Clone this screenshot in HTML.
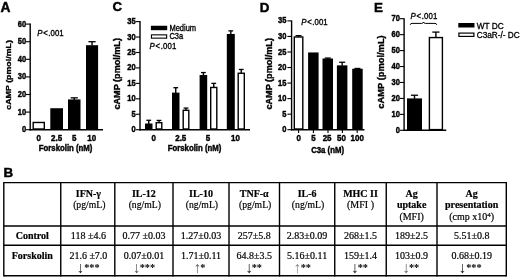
<!DOCTYPE html>
<html><head><meta charset="utf-8"><title>Figure</title>
<style>
html,body{margin:0;padding:0;background:#fff;}
svg{display:block;font-family:"Liberation Sans",sans-serif;filter:blur(0.35px);}
</style></head>
<body>
<svg width="520" height="277" viewBox="0 0 520 277">
<rect width="520" height="277" fill="#fff"/>
<line x1="30.20" y1="23.60" x2="30.20" y2="130.40" stroke="#000" stroke-width="1.4"/>
<line x1="29.50" y1="129.70" x2="103.00" y2="129.70" stroke="#000" stroke-width="1.4"/>
<line x1="26.00" y1="129.70" x2="30.20" y2="129.70" stroke="#000" stroke-width="1.1"/>
<text transform="translate(26.20,132.25) scale(0.97,1.13)" text-anchor="end" font-size="7.8" font-weight="bold" stroke="#000" stroke-width="0.38" >0</text>
<line x1="26.00" y1="112.10" x2="30.20" y2="112.10" stroke="#000" stroke-width="1.1"/>
<text transform="translate(26.20,114.65) scale(0.97,1.13)" text-anchor="end" font-size="7.8" font-weight="bold" stroke="#000" stroke-width="0.38" >10</text>
<line x1="26.00" y1="94.50" x2="30.20" y2="94.50" stroke="#000" stroke-width="1.1"/>
<text transform="translate(26.20,97.05) scale(0.97,1.13)" text-anchor="end" font-size="7.8" font-weight="bold" stroke="#000" stroke-width="0.38" >20</text>
<line x1="26.00" y1="76.90" x2="30.20" y2="76.90" stroke="#000" stroke-width="1.1"/>
<text transform="translate(26.20,79.45) scale(0.97,1.13)" text-anchor="end" font-size="7.8" font-weight="bold" stroke="#000" stroke-width="0.38" >30</text>
<line x1="26.00" y1="59.30" x2="30.20" y2="59.30" stroke="#000" stroke-width="1.1"/>
<text transform="translate(26.20,61.85) scale(0.97,1.13)" text-anchor="end" font-size="7.8" font-weight="bold" stroke="#000" stroke-width="0.38" >40</text>
<line x1="26.00" y1="41.70" x2="30.20" y2="41.70" stroke="#000" stroke-width="1.1"/>
<text transform="translate(26.20,44.25) scale(0.97,1.13)" text-anchor="end" font-size="7.8" font-weight="bold" stroke="#000" stroke-width="0.38" >50</text>
<line x1="26.00" y1="24.10" x2="30.20" y2="24.10" stroke="#000" stroke-width="1.1"/>
<text transform="translate(26.20,26.65) scale(0.97,1.13)" text-anchor="end" font-size="7.8" font-weight="bold" stroke="#000" stroke-width="0.38" >60</text>
<rect x="33.20" y="122.48" width="11.10" height="6.52" fill="#fff" stroke="#000" stroke-width="1.4"/>
<rect x="50.30" y="108.23" width="12.70" height="21.47" fill="#000"/>
<line x1="74.25" y1="97.84" x2="74.25" y2="99.93" stroke="#000" stroke-width="1.4"/>
<line x1="70.65" y1="97.84" x2="77.85" y2="97.84" stroke="#000" stroke-width="1.3"/>
<rect x="68.00" y="99.43" width="12.50" height="30.27" fill="#000"/>
<line x1="92.05" y1="41.70" x2="92.05" y2="45.72" stroke="#000" stroke-width="1.4"/>
<line x1="88.45" y1="41.70" x2="95.65" y2="41.70" stroke="#000" stroke-width="1.3"/>
<rect x="86.00" y="45.22" width="12.10" height="84.48" fill="#000"/>
<text transform="translate(38.75,141.00) scale(1.0,1.13)" text-anchor="middle" font-size="8.0" font-weight="bold" stroke="#000" stroke-width="0.38" >0</text>
<text transform="translate(56.60,141.00) scale(1.0,1.13)" text-anchor="middle" font-size="8.0" font-weight="bold" stroke="#000" stroke-width="0.38" >2.5</text>
<text transform="translate(74.25,141.00) scale(1.0,1.13)" text-anchor="middle" font-size="8.0" font-weight="bold" stroke="#000" stroke-width="0.38" >5</text>
<text transform="translate(91.75,141.00) scale(1.0,1.13)" text-anchor="middle" font-size="8.0" font-weight="bold" stroke="#000" stroke-width="0.38" >10</text>
<text transform="translate(65.60,150.60) scale(1.0,1.13)" text-anchor="middle" font-size="7.8" font-weight="bold" stroke="#000" stroke-width="0.38" >Forskolin (nM)</text>
<text transform="translate(11.00,74.90) rotate(-90) scale(1,0.9)" text-anchor="middle" font-size="8.85" font-weight="bold" stroke="#000" stroke-width="0.38">cAMP (pmol/mL)</text>
<line x1="140.00" y1="21.10" x2="140.00" y2="130.40" stroke="#000" stroke-width="1.4"/>
<line x1="139.30" y1="129.70" x2="250.00" y2="129.70" stroke="#000" stroke-width="1.4"/>
<line x1="135.80" y1="129.70" x2="140.00" y2="129.70" stroke="#000" stroke-width="1.1"/>
<text transform="translate(135.70,132.25) scale(0.97,1.13)" text-anchor="end" font-size="7.8" font-weight="bold" stroke="#000" stroke-width="0.38" >0</text>
<line x1="135.80" y1="114.26" x2="140.00" y2="114.26" stroke="#000" stroke-width="1.1"/>
<text transform="translate(135.70,116.81) scale(0.97,1.13)" text-anchor="end" font-size="7.8" font-weight="bold" stroke="#000" stroke-width="0.38" >5</text>
<line x1="135.80" y1="98.81" x2="140.00" y2="98.81" stroke="#000" stroke-width="1.1"/>
<text transform="translate(135.70,101.36) scale(0.97,1.13)" text-anchor="end" font-size="7.8" font-weight="bold" stroke="#000" stroke-width="0.38" >10</text>
<line x1="135.80" y1="83.37" x2="140.00" y2="83.37" stroke="#000" stroke-width="1.1"/>
<text transform="translate(135.70,85.92) scale(0.97,1.13)" text-anchor="end" font-size="7.8" font-weight="bold" stroke="#000" stroke-width="0.38" >15</text>
<line x1="135.80" y1="67.93" x2="140.00" y2="67.93" stroke="#000" stroke-width="1.1"/>
<text transform="translate(135.70,70.48) scale(0.97,1.13)" text-anchor="end" font-size="7.8" font-weight="bold" stroke="#000" stroke-width="0.38" >20</text>
<line x1="135.80" y1="52.49" x2="140.00" y2="52.49" stroke="#000" stroke-width="1.1"/>
<text transform="translate(135.70,55.04) scale(0.97,1.13)" text-anchor="end" font-size="7.8" font-weight="bold" stroke="#000" stroke-width="0.38" >25</text>
<line x1="135.80" y1="37.04" x2="140.00" y2="37.04" stroke="#000" stroke-width="1.1"/>
<text transform="translate(135.70,39.59) scale(0.97,1.13)" text-anchor="end" font-size="7.8" font-weight="bold" stroke="#000" stroke-width="0.38" >30</text>
<line x1="135.80" y1="21.60" x2="140.00" y2="21.60" stroke="#000" stroke-width="1.1"/>
<text transform="translate(135.70,24.15) scale(0.97,1.13)" text-anchor="end" font-size="7.8" font-weight="bold" stroke="#000" stroke-width="0.38" >35</text>
<line x1="148.75" y1="120.28" x2="148.75" y2="124.02" stroke="#000" stroke-width="1.4"/>
<line x1="146.35" y1="120.28" x2="151.15" y2="120.28" stroke="#000" stroke-width="1.3"/>
<rect x="145.00" y="123.52" width="7.50" height="6.18" fill="#000"/>
<line x1="159.00" y1="120.43" x2="159.00" y2="122.48" stroke="#000" stroke-width="1.4"/>
<line x1="156.60" y1="120.43" x2="161.40" y2="120.43" stroke="#000" stroke-width="1.3"/>
<rect x="156.20" y="122.68" width="5.60" height="6.32" fill="#fff" stroke="#000" stroke-width="1.4"/>
<line x1="175.75" y1="87.70" x2="175.75" y2="93.14" stroke="#000" stroke-width="1.4"/>
<line x1="173.35" y1="87.70" x2="178.15" y2="87.70" stroke="#000" stroke-width="1.3"/>
<rect x="172.00" y="92.64" width="7.50" height="37.06" fill="#000"/>
<line x1="186.00" y1="108.08" x2="186.00" y2="110.12" stroke="#000" stroke-width="1.4"/>
<line x1="183.60" y1="108.08" x2="188.40" y2="108.08" stroke="#000" stroke-width="1.3"/>
<rect x="183.20" y="110.32" width="5.60" height="18.68" fill="#fff" stroke="#000" stroke-width="1.4"/>
<line x1="203.40" y1="72.56" x2="203.40" y2="75.53" stroke="#000" stroke-width="1.4"/>
<line x1="201.00" y1="72.56" x2="205.80" y2="72.56" stroke="#000" stroke-width="1.3"/>
<rect x="199.60" y="75.03" width="7.60" height="54.67" fill="#000"/>
<line x1="213.75" y1="83.37" x2="213.75" y2="87.27" stroke="#000" stroke-width="1.4"/>
<line x1="211.35" y1="83.37" x2="216.15" y2="83.37" stroke="#000" stroke-width="1.3"/>
<rect x="210.70" y="87.47" width="6.10" height="41.53" fill="#fff" stroke="#000" stroke-width="1.4"/>
<line x1="230.80" y1="30.87" x2="230.80" y2="34.45" stroke="#000" stroke-width="1.4"/>
<line x1="228.40" y1="30.87" x2="233.20" y2="30.87" stroke="#000" stroke-width="1.3"/>
<rect x="226.80" y="33.95" width="8.00" height="95.75" fill="#000"/>
<line x1="241.25" y1="69.47" x2="241.25" y2="73.06" stroke="#000" stroke-width="1.4"/>
<line x1="238.85" y1="69.47" x2="243.65" y2="69.47" stroke="#000" stroke-width="1.3"/>
<rect x="238.20" y="73.26" width="6.10" height="55.74" fill="#fff" stroke="#000" stroke-width="1.4"/>
<text transform="translate(153.75,141.00) scale(1.0,1.13)" text-anchor="middle" font-size="8.0" font-weight="bold" stroke="#000" stroke-width="0.38" >0</text>
<text transform="translate(180.75,141.00) scale(1.0,1.13)" text-anchor="middle" font-size="8.0" font-weight="bold" stroke="#000" stroke-width="0.38" >2.5</text>
<text transform="translate(208.00,141.00) scale(1.0,1.13)" text-anchor="middle" font-size="8.0" font-weight="bold" stroke="#000" stroke-width="0.38" >5</text>
<text transform="translate(235.50,141.00) scale(1.0,1.13)" text-anchor="middle" font-size="8.0" font-weight="bold" stroke="#000" stroke-width="0.38" >10</text>
<text transform="translate(194.50,150.60) scale(1.0,1.13)" text-anchor="middle" font-size="7.8" font-weight="bold" stroke="#000" stroke-width="0.38" >Forskolin (nM)</text>
<text transform="translate(120.20,73.80) rotate(-90) scale(1,0.9)" text-anchor="middle" font-size="9.1" font-weight="bold" stroke="#000" stroke-width="0.38">cAMP (pmol/mL)</text>
<line x1="291.60" y1="20.40" x2="291.60" y2="130.40" stroke="#000" stroke-width="1.4"/>
<line x1="290.90" y1="129.70" x2="364.50" y2="129.70" stroke="#000" stroke-width="1.4"/>
<line x1="287.40" y1="129.70" x2="291.60" y2="129.70" stroke="#000" stroke-width="1.1"/>
<text transform="translate(286.40,132.25) scale(0.97,1.13)" text-anchor="end" font-size="7.8" font-weight="bold" stroke="#000" stroke-width="0.38" >0</text>
<line x1="287.40" y1="114.16" x2="291.60" y2="114.16" stroke="#000" stroke-width="1.1"/>
<text transform="translate(286.40,116.71) scale(0.97,1.13)" text-anchor="end" font-size="7.8" font-weight="bold" stroke="#000" stroke-width="0.38" >5</text>
<line x1="287.40" y1="98.61" x2="291.60" y2="98.61" stroke="#000" stroke-width="1.1"/>
<text transform="translate(286.40,101.16) scale(0.97,1.13)" text-anchor="end" font-size="7.8" font-weight="bold" stroke="#000" stroke-width="0.38" >10</text>
<line x1="287.40" y1="83.07" x2="291.60" y2="83.07" stroke="#000" stroke-width="1.1"/>
<text transform="translate(286.40,85.62) scale(0.97,1.13)" text-anchor="end" font-size="7.8" font-weight="bold" stroke="#000" stroke-width="0.38" >15</text>
<line x1="287.40" y1="67.53" x2="291.60" y2="67.53" stroke="#000" stroke-width="1.1"/>
<text transform="translate(286.40,70.08) scale(0.97,1.13)" text-anchor="end" font-size="7.8" font-weight="bold" stroke="#000" stroke-width="0.38" >20</text>
<line x1="287.40" y1="51.99" x2="291.60" y2="51.99" stroke="#000" stroke-width="1.1"/>
<text transform="translate(286.40,54.54) scale(0.97,1.13)" text-anchor="end" font-size="7.8" font-weight="bold" stroke="#000" stroke-width="0.38" >25</text>
<line x1="287.40" y1="36.44" x2="291.60" y2="36.44" stroke="#000" stroke-width="1.1"/>
<text transform="translate(286.40,38.99) scale(0.97,1.13)" text-anchor="end" font-size="7.8" font-weight="bold" stroke="#000" stroke-width="0.38" >30</text>
<line x1="287.40" y1="20.90" x2="291.60" y2="20.90" stroke="#000" stroke-width="1.1"/>
<text transform="translate(286.40,23.45) scale(0.97,1.13)" text-anchor="end" font-size="7.8" font-weight="bold" stroke="#000" stroke-width="0.38" >35</text>
<line x1="298.55" y1="35.67" x2="298.55" y2="36.79" stroke="#000" stroke-width="1.4"/>
<line x1="295.55" y1="35.67" x2="301.55" y2="35.67" stroke="#000" stroke-width="1.3"/>
<rect x="294.30" y="36.99" width="8.50" height="92.01" fill="#fff" stroke="#000" stroke-width="1.4"/>
<rect x="308.10" y="52.45" width="10.50" height="77.25" fill="#000"/>
<line x1="327.75" y1="58.05" x2="327.75" y2="59.01" stroke="#000" stroke-width="1.4"/>
<line x1="324.75" y1="58.05" x2="330.75" y2="58.05" stroke="#000" stroke-width="1.3"/>
<rect x="322.50" y="58.51" width="10.50" height="71.19" fill="#000"/>
<line x1="342.15" y1="62.24" x2="342.15" y2="65.85" stroke="#000" stroke-width="1.4"/>
<line x1="339.15" y1="62.24" x2="345.15" y2="62.24" stroke="#000" stroke-width="1.3"/>
<rect x="336.90" y="65.35" width="10.50" height="64.35" fill="#000"/>
<line x1="357.45" y1="68.46" x2="357.45" y2="69.27" stroke="#000" stroke-width="1.4"/>
<line x1="354.45" y1="68.46" x2="360.45" y2="68.46" stroke="#000" stroke-width="1.3"/>
<rect x="352.20" y="68.77" width="10.50" height="60.93" fill="#000"/>
<line x1="298.60" y1="129.70" x2="298.60" y2="133.00" stroke="#000" stroke-width="1.1"/>
<line x1="313.40" y1="129.70" x2="313.40" y2="133.00" stroke="#000" stroke-width="1.1"/>
<line x1="328.00" y1="129.70" x2="328.00" y2="133.00" stroke="#000" stroke-width="1.1"/>
<line x1="342.40" y1="129.70" x2="342.40" y2="133.00" stroke="#000" stroke-width="1.1"/>
<line x1="357.20" y1="129.70" x2="357.20" y2="133.00" stroke="#000" stroke-width="1.1"/>
<text transform="translate(298.80,140.90) scale(1.0,1.13)" text-anchor="middle" font-size="8.0" font-weight="bold" stroke="#000" stroke-width="0.38" >0</text>
<text transform="translate(313.40,140.90) scale(1.0,1.13)" text-anchor="middle" font-size="8.0" font-weight="bold" stroke="#000" stroke-width="0.38" >5</text>
<text transform="translate(327.10,140.90) scale(1.0,1.13)" text-anchor="middle" font-size="8.0" font-weight="bold" stroke="#000" stroke-width="0.38" >25</text>
<text transform="translate(341.50,140.90) scale(1.0,1.13)" text-anchor="middle" font-size="8.0" font-weight="bold" stroke="#000" stroke-width="0.38" >50</text>
<text transform="translate(357.20,140.90) scale(1.0,1.13)" text-anchor="middle" font-size="8.0" font-weight="bold" stroke="#000" stroke-width="0.38" >100</text>
<text transform="translate(327.60,152.80) scale(1.0,1.13)" text-anchor="middle" font-size="7.8" font-weight="bold" stroke="#000" stroke-width="0.38" >C3a (nM)</text>
<text transform="translate(271.60,73.80) rotate(-90) scale(1,0.9)" text-anchor="middle" font-size="9.1" font-weight="bold" stroke="#000" stroke-width="0.38">cAMP (pmol/mL)</text>
<line x1="404.10" y1="18.20" x2="404.10" y2="131.00" stroke="#000" stroke-width="1.4"/>
<line x1="403.40" y1="130.30" x2="446.25" y2="130.30" stroke="#000" stroke-width="1.4"/>
<line x1="399.90" y1="130.30" x2="404.10" y2="130.30" stroke="#000" stroke-width="1.1"/>
<text transform="translate(399.90,132.85) scale(0.97,1.13)" text-anchor="end" font-size="7.8" font-weight="bold" stroke="#000" stroke-width="0.38" >0</text>
<line x1="399.90" y1="114.36" x2="404.10" y2="114.36" stroke="#000" stroke-width="1.1"/>
<text transform="translate(399.90,116.91) scale(0.97,1.13)" text-anchor="end" font-size="7.8" font-weight="bold" stroke="#000" stroke-width="0.38" >10</text>
<line x1="399.90" y1="98.41" x2="404.10" y2="98.41" stroke="#000" stroke-width="1.1"/>
<text transform="translate(399.90,100.96) scale(0.97,1.13)" text-anchor="end" font-size="7.8" font-weight="bold" stroke="#000" stroke-width="0.38" >20</text>
<line x1="399.90" y1="82.47" x2="404.10" y2="82.47" stroke="#000" stroke-width="1.1"/>
<text transform="translate(399.90,85.02) scale(0.97,1.13)" text-anchor="end" font-size="7.8" font-weight="bold" stroke="#000" stroke-width="0.38" >30</text>
<line x1="399.90" y1="66.53" x2="404.10" y2="66.53" stroke="#000" stroke-width="1.1"/>
<text transform="translate(399.90,69.08) scale(0.97,1.13)" text-anchor="end" font-size="7.8" font-weight="bold" stroke="#000" stroke-width="0.38" >40</text>
<line x1="399.90" y1="50.59" x2="404.10" y2="50.59" stroke="#000" stroke-width="1.1"/>
<text transform="translate(399.90,53.14) scale(0.97,1.13)" text-anchor="end" font-size="7.8" font-weight="bold" stroke="#000" stroke-width="0.38" >50</text>
<line x1="399.90" y1="34.64" x2="404.10" y2="34.64" stroke="#000" stroke-width="1.1"/>
<text transform="translate(399.90,37.19) scale(0.97,1.13)" text-anchor="end" font-size="7.8" font-weight="bold" stroke="#000" stroke-width="0.38" >60</text>
<line x1="399.90" y1="18.70" x2="404.10" y2="18.70" stroke="#000" stroke-width="1.1"/>
<text transform="translate(399.90,21.25) scale(0.97,1.13)" text-anchor="end" font-size="7.8" font-weight="bold" stroke="#000" stroke-width="0.38" >70</text>
<line x1="414.50" y1="95.23" x2="414.50" y2="98.91" stroke="#000" stroke-width="1.4"/>
<line x1="410.90" y1="95.23" x2="418.10" y2="95.23" stroke="#000" stroke-width="1.3"/>
<rect x="407.00" y="98.41" width="15.00" height="31.89" fill="#000"/>
<line x1="435.90" y1="32.09" x2="435.90" y2="37.37" stroke="#000" stroke-width="1.4"/>
<line x1="432.30" y1="32.09" x2="439.50" y2="32.09" stroke="#000" stroke-width="1.3"/>
<rect x="429.40" y="37.57" width="13.00" height="92.03" fill="#fff" stroke="#000" stroke-width="1.4"/>
<text transform="translate(383.50,72.00) rotate(-90) scale(1,0.9)" text-anchor="middle" font-size="9.35" font-weight="bold" stroke="#000" stroke-width="0.38">cAMP (pmol/mL)</text>
<text x="0.50" y="12.30" text-anchor="start" font-size="13.8" font-weight="bold" stroke="#000" stroke-width="0.45" >A</text>
<text x="112.60" y="10.90" text-anchor="start" font-size="13.2" font-weight="bold" stroke="#000" stroke-width="0.45" >C</text>
<text x="259.80" y="11.90" text-anchor="start" font-size="13.4" font-weight="bold" stroke="#000" stroke-width="0.45" >D</text>
<text x="374.00" y="12.30" text-anchor="start" font-size="13.4" font-weight="bold" stroke="#000" stroke-width="0.45" >E</text>
<text x="3.60" y="176.60" text-anchor="start" font-size="13.4" font-weight="bold" stroke="#000" stroke-width="0.45" >B</text>
<text transform="translate(37.30,36.30) scale(1,1.13)" font-size="7.8" font-weight="normal" stroke="#000" stroke-width="0.3" textLength="26.3" lengthAdjust="spacing"><tspan font-style="italic">P</tspan><tspan dx="0.7">&lt;</tspan><tspan dx="0.5">.001</tspan></text>
<text transform="translate(149.40,49.40) scale(1,1.13)" font-size="7.8" font-weight="normal" stroke="#000" stroke-width="0.3" textLength="26.9" lengthAdjust="spacing"><tspan font-style="italic">P</tspan><tspan dx="0.7">&lt;</tspan><tspan dx="0.5">.001</tspan></text>
<text transform="translate(301.30,25.30) scale(1,1.13)" font-size="7.8" font-weight="normal" stroke="#000" stroke-width="0.3" textLength="26.3" lengthAdjust="spacing"><tspan font-style="italic">P</tspan><tspan dx="0.7">&lt;</tspan><tspan dx="0.5">.001</tspan></text>
<text transform="translate(410.50,18.90) scale(1,1.13)" font-size="7.8" font-weight="normal" stroke="#000" stroke-width="0.3" textLength="26.8" lengthAdjust="spacing"><tspan font-style="italic">P</tspan><tspan dx="0.7">&lt;</tspan><tspan dx="0.5">.001</tspan></text>
<path d="M410.3 24.8 Q410.3 23.4 412 23.4 L421.5 23.4 Q423.3 23.4 423.5 22 Q423.7 23.4 425.5 23.4 L435 23.4 Q436.7 23.4 436.7 24.8" fill="none" stroke="#000" stroke-width="1.0"/>
<rect x="150.90" y="25.75" width="16.30" height="4.45" fill="#000"/>
<rect x="151.45" y="34.85" width="15.20" height="3.30" fill="#fff" stroke="#000" stroke-width="1.1"/>
<text transform="translate(169.40,31.00) scale(1.0,1.13)" text-anchor="start" font-size="7.5" font-weight="normal" stroke="#000" stroke-width="0.3" >Medium</text>
<text transform="translate(169.40,39.20) scale(1.0,1.13)" text-anchor="start" font-size="7.5" font-weight="normal" stroke="#000" stroke-width="0.3" >C3a</text>
<rect x="458.30" y="23.00" width="16.20" height="4.50" fill="#000"/>
<rect x="458.90" y="33.10" width="15.00" height="3.30" fill="#fff" stroke="#000" stroke-width="1.2"/>
<text transform="translate(476.75,28.50) scale(1.0,1.03)" text-anchor="start" font-size="8.3" font-weight="normal" stroke="#000" stroke-width="0.3" >WT DC</text>
<text transform="translate(476.75,37.80) scale(1.0,1.03)" text-anchor="start" font-size="8.3" font-weight="normal" stroke="#000" stroke-width="0.3" textLength="43" lengthAdjust="spacingAndGlyphs">C3aR-/- DC</text>
<line x1="3.80" y1="181.90" x2="3.80" y2="276.50" stroke="#000" stroke-width="1.4"/>
<line x1="60.75" y1="181.90" x2="60.75" y2="276.50" stroke="#000" stroke-width="1.4"/>
<line x1="114.80" y1="181.90" x2="114.80" y2="276.50" stroke="#000" stroke-width="1.4"/>
<line x1="173.00" y1="181.90" x2="173.00" y2="276.50" stroke="#000" stroke-width="1.4"/>
<line x1="229.00" y1="181.90" x2="229.00" y2="276.50" stroke="#000" stroke-width="1.4"/>
<line x1="279.50" y1="181.90" x2="279.50" y2="276.50" stroke="#000" stroke-width="1.4"/>
<line x1="334.75" y1="181.90" x2="334.75" y2="276.50" stroke="#000" stroke-width="1.4"/>
<line x1="386.25" y1="181.90" x2="386.25" y2="276.50" stroke="#000" stroke-width="1.4"/>
<line x1="437.00" y1="181.90" x2="437.00" y2="276.50" stroke="#000" stroke-width="1.4"/>
<line x1="506.30" y1="181.90" x2="506.30" y2="276.50" stroke="#000" stroke-width="1.4"/>
<line x1="3.80" y1="182.60" x2="506.30" y2="182.60" stroke="#000" stroke-width="1.4"/>
<line x1="3.80" y1="226.00" x2="506.30" y2="226.00" stroke="#000" stroke-width="1.4"/>
<line x1="3.80" y1="245.20" x2="506.30" y2="245.20" stroke="#000" stroke-width="1.4"/>
<line x1="3.80" y1="275.80" x2="506.30" y2="275.80" stroke="#000" stroke-width="1.4"/>
<text x="88.38" y="196.65" text-anchor="middle" font-size="10" font-weight="bold" stroke="#000" stroke-width="0.2" font-family="Liberation Serif, serif">IFN-γ</text>
<text x="89.28" y="208.25" text-anchor="middle" font-size="10" font-weight="normal" stroke="#000" stroke-width="0.2" font-family="Liberation Serif, serif" textLength="32.3" lengthAdjust="spacingAndGlyphs">(pg/mL)</text>
<text x="143.90" y="196.65" text-anchor="middle" font-size="10" font-weight="bold" stroke="#000" stroke-width="0.2" font-family="Liberation Serif, serif">IL-12</text>
<text x="144.80" y="208.25" text-anchor="middle" font-size="10" font-weight="normal" stroke="#000" stroke-width="0.2" font-family="Liberation Serif, serif" textLength="32.3" lengthAdjust="spacingAndGlyphs">(ng/mL)</text>
<text x="201.00" y="196.65" text-anchor="middle" font-size="10" font-weight="bold" stroke="#000" stroke-width="0.2" font-family="Liberation Serif, serif">IL-10</text>
<text x="201.90" y="208.25" text-anchor="middle" font-size="10" font-weight="normal" stroke="#000" stroke-width="0.2" font-family="Liberation Serif, serif" textLength="32.3" lengthAdjust="spacingAndGlyphs">(ng/mL)</text>
<text x="254.25" y="196.65" text-anchor="middle" font-size="10" font-weight="bold" stroke="#000" stroke-width="0.2" font-family="Liberation Serif, serif">TNF-α</text>
<text x="255.15" y="208.25" text-anchor="middle" font-size="10" font-weight="normal" stroke="#000" stroke-width="0.2" font-family="Liberation Serif, serif" textLength="32.3" lengthAdjust="spacingAndGlyphs">(pg/mL)</text>
<text x="307.12" y="196.65" text-anchor="middle" font-size="10" font-weight="bold" stroke="#000" stroke-width="0.2" font-family="Liberation Serif, serif">IL-6</text>
<text x="308.02" y="208.25" text-anchor="middle" font-size="10" font-weight="normal" stroke="#000" stroke-width="0.2" font-family="Liberation Serif, serif" textLength="32.3" lengthAdjust="spacingAndGlyphs">(ng/mL)</text>
<text x="360.50" y="196.65" text-anchor="middle" font-size="10" font-weight="bold" stroke="#000" stroke-width="0.2" font-family="Liberation Serif, serif">MHC II</text>
<text x="360.50" y="208.25" text-anchor="middle" font-size="10" font-weight="normal" stroke="#000" stroke-width="0.2" font-family="Liberation Serif, serif">(MFI )</text>
<text x="411.62" y="196.65" text-anchor="middle" font-size="10" font-weight="bold" stroke="#000" stroke-width="0.2" font-family="Liberation Serif, serif">Ag</text>
<text x="411.62" y="208.25" text-anchor="middle" font-size="10" font-weight="bold" stroke="#000" stroke-width="0.2" font-family="Liberation Serif, serif">uptake</text>
<text x="411.62" y="219.85" text-anchor="middle" font-size="10" font-weight="normal" stroke="#000" stroke-width="0.2" font-family="Liberation Serif, serif">(MFI)</text>
<text x="471.65" y="196.65" text-anchor="middle" font-size="10" font-weight="bold" stroke="#000" stroke-width="0.2" font-family="Liberation Serif, serif">Ag</text>
<text x="471.65" y="208.25" text-anchor="middle" font-size="10" font-weight="bold" stroke="#000" stroke-width="0.2" font-family="Liberation Serif, serif">presentation</text>
<text x="471.65" y="219.85" text-anchor="middle" font-size="10" font-weight="normal" stroke="#000" stroke-width="0.2" font-family="Liberation Serif, serif">(cmp x10<tspan font-size="7" dy="-3.2">4</tspan><tspan dy="3.2">)</tspan></text>
<text x="32.27" y="239.35" text-anchor="middle" font-size="10" font-weight="bold" stroke="#000" stroke-width="0.2" font-family="Liberation Serif, serif">Control</text>
<text x="32.27" y="258.50" text-anchor="middle" font-size="10" font-weight="bold" stroke="#000" stroke-width="0.2" font-family="Liberation Serif, serif">Forskolin</text>
<text x="88.38" y="239.35" text-anchor="middle" font-size="10" font-weight="normal" stroke="#000" stroke-width="0.2" font-family="Liberation Serif, serif">118 ±4.6</text>
<text x="88.38" y="258.50" text-anchor="middle" font-size="10" font-weight="normal" stroke="#000" stroke-width="0.2" font-family="Liberation Serif, serif">21.6 ±7.0</text>
<text x="80.50" y="272.6" text-anchor="middle" font-size="15.5" font-family="Liberation Serif, serif" fill="#222">↓</text>
<text x="91.88" y="270.9" text-anchor="middle" font-size="10.3" font-weight="bold" font-family="Liberation Serif, serif">***</text>
<text x="143.90" y="239.35" text-anchor="middle" font-size="10" font-weight="normal" stroke="#000" stroke-width="0.2" font-family="Liberation Serif, serif">0.77 ±0.03</text>
<text x="143.90" y="258.50" text-anchor="middle" font-size="10" font-weight="normal" stroke="#000" stroke-width="0.2" font-family="Liberation Serif, serif">0.07±0.01</text>
<text x="136.75" y="272.6" text-anchor="middle" font-size="15.5" font-family="Liberation Serif, serif" fill="#555">↓</text>
<text x="147.38" y="270.9" text-anchor="middle" font-size="10.3" font-weight="bold" font-family="Liberation Serif, serif">***</text>
<text x="201.00" y="239.35" text-anchor="middle" font-size="10" font-weight="normal" stroke="#000" stroke-width="0.2" font-family="Liberation Serif, serif">1.27±0.03</text>
<text x="201.00" y="258.50" text-anchor="middle" font-size="10" font-weight="normal" stroke="#000" stroke-width="0.2" font-family="Liberation Serif, serif">1.71±0.11</text>
<text x="197.50" y="273.3" text-anchor="middle" font-size="15.5" font-family="Liberation Serif, serif" fill="#666">↑</text>
<text x="202.88" y="270.9" text-anchor="middle" font-size="10.3" font-weight="bold" font-family="Liberation Serif, serif">*</text>
<text x="254.25" y="239.35" text-anchor="middle" font-size="10" font-weight="normal" stroke="#000" stroke-width="0.2" font-family="Liberation Serif, serif">257±5.8</text>
<text x="254.25" y="258.50" text-anchor="middle" font-size="10" font-weight="normal" stroke="#000" stroke-width="0.2" font-family="Liberation Serif, serif">64.8±3.5</text>
<text x="249.25" y="272.6" text-anchor="middle" font-size="15.5" font-family="Liberation Serif, serif" fill="#111">↓</text>
<text x="256.88" y="270.9" text-anchor="middle" font-size="10.3" font-weight="bold" font-family="Liberation Serif, serif">**</text>
<text x="307.12" y="239.35" text-anchor="middle" font-size="10" font-weight="normal" stroke="#000" stroke-width="0.2" font-family="Liberation Serif, serif">2.83±0.09</text>
<text x="307.12" y="258.50" text-anchor="middle" font-size="10" font-weight="normal" stroke="#000" stroke-width="0.2" font-family="Liberation Serif, serif">5.16±0.11</text>
<text x="297.50" y="273.3" text-anchor="middle" font-size="15.5" font-family="Liberation Serif, serif" fill="#888">↑</text>
<text x="305.88" y="270.9" text-anchor="middle" font-size="10.3" font-weight="bold" font-family="Liberation Serif, serif">**</text>
<text x="360.50" y="239.35" text-anchor="middle" font-size="10" font-weight="normal" stroke="#000" stroke-width="0.2" font-family="Liberation Serif, serif">268±1.5</text>
<text x="360.50" y="258.50" text-anchor="middle" font-size="10" font-weight="normal" stroke="#000" stroke-width="0.2" font-family="Liberation Serif, serif">159±1.4</text>
<text x="355.00" y="272.6" text-anchor="middle" font-size="15.5" font-family="Liberation Serif, serif" fill="#111">↓</text>
<text x="362.88" y="270.9" text-anchor="middle" font-size="10.3" font-weight="bold" font-family="Liberation Serif, serif">**</text>
<text x="411.62" y="239.35" text-anchor="middle" font-size="10" font-weight="normal" stroke="#000" stroke-width="0.2" font-family="Liberation Serif, serif">189±2.5</text>
<text x="411.62" y="258.50" text-anchor="middle" font-size="10" font-weight="normal" stroke="#000" stroke-width="0.2" font-family="Liberation Serif, serif">103±0.9</text>
<text x="406.25" y="272.6" text-anchor="middle" font-size="15.5" font-family="Liberation Serif, serif" fill="#666">↓</text>
<text x="414.12" y="270.9" text-anchor="middle" font-size="10.3" font-weight="bold" font-family="Liberation Serif, serif">**</text>
<text x="471.65" y="239.35" text-anchor="middle" font-size="10" font-weight="normal" stroke="#000" stroke-width="0.2" font-family="Liberation Serif, serif">5.51±0.8</text>
<text x="471.65" y="258.50" text-anchor="middle" font-size="10" font-weight="normal" stroke="#000" stroke-width="0.2" font-family="Liberation Serif, serif">0.68±0.19</text>
<text x="462.50" y="272.6" text-anchor="middle" font-size="15.5" font-family="Liberation Serif, serif" fill="#111">↓</text>
<text x="473.88" y="270.9" text-anchor="middle" font-size="10.3" font-weight="bold" font-family="Liberation Serif, serif">***</text>
</svg>
</body></html>
